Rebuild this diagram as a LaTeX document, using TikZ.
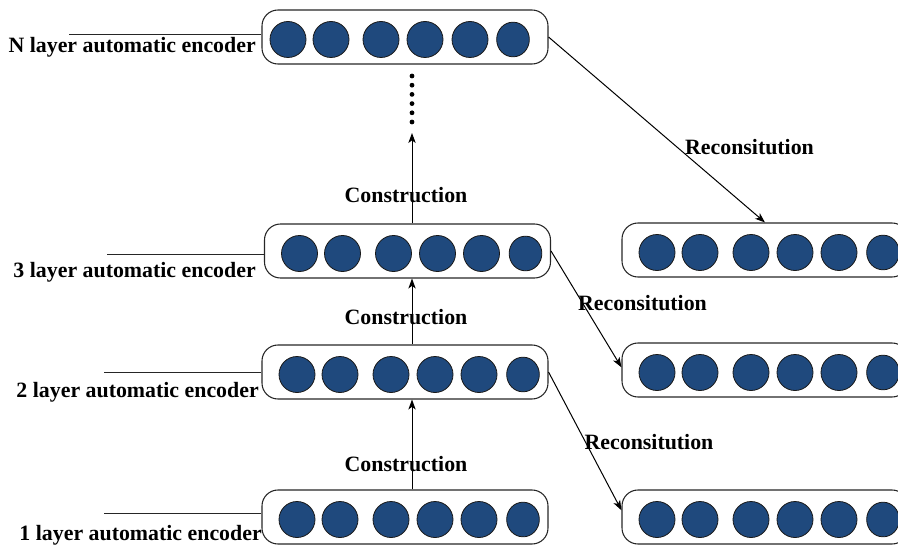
\documentclass[tikz,border=0pt]{standalone}
\usepackage{fontspec}
\setmainfont{Liberation Serif}
\usetikzlibrary{arrows.meta,shapes.geometric}
\definecolor{unitblue}{HTML}{1F497D}

\begin{document}
\begin{tikzpicture}[x=0.75pt,y=-0.75pt,
  layerbox/.style={draw=black!85, line width=0.8pt, rounded corners=12pt,
    minimum width=214.5pt, minimum height=40.5pt, inner sep=0pt},
  unit/.style={ellipse, draw=black!90, line width=0.6pt, fill=unitblue,
    minimum width=27pt, minimum height=27pt, inner sep=0pt},
  lastunit/.style={unit, minimum width=24.5pt, minimum height=26pt},
  lbl/.style={font=\bfseries\fontsize{16.4}{18}\selectfont, inner sep=0pt},
  tagline/.style={line width=0.75pt, black!85},
  link/.style={line width=0.75pt, -{Stealth[length=7.5pt,width=5.5pt,inset=2pt]}}
]
\useasboundingbox (0,0) rectangle (898,545);
\clip (0,0) rectangle (898,545);

% encoder layers (left column)
\node[layerbox] (encN) at (405,37) {};
\node[layerbox] (enc3) at (407.5,251) {};
\node[layerbox] (enc2) at (405,372) {};
\node[layerbox] (enc1) at (405,517) {};
% reconstructed layers (right column)
\node[layerbox] (rec3) at (765,250) {};
\node[layerbox] (rec2) at (765,370) {};
\node[layerbox] (rec1) at (765,517) {};

% units inside the top layer
\foreach \o [count=\i] in {26,69,119,163,208}
  \node[unit] (encN-u\i) at (405-143+\o, 39.5) {};
\node[lastunit] (encN-u6) at (405-143+251, 39.5) {};

% units inside the other layers
\foreach \b/\cx/\cy in {enc3/407.5/251, enc2/405/372, enc1/405/517,
                        rec3/765/250, rec2/765/370, rec1/765/517}{
  \foreach \o [count=\i] in {35,78,129,173,217}
    \node[unit] (\b-u\i) at (\cx-143+\o, \cy+2.5) {};
  \node[lastunit] (\b-u6) at (\cx-143+261, \cy+2.5) {};
}

% layer names with their leader lines
\coordinate (tagN) at (69,35);
\coordinate (tag3) at (107,254);
\coordinate (tag2) at (104,372);
\coordinate (tag1) at (104,513);
\draw[tagline] (tagN) -- (tagN -| encN.west);
\draw[tagline] (tag3) -- (tag3 -| enc3.west);
\draw[tagline] (tag2) -- (tag2 -| enc2.west);
\draw[tagline] (tag1) -- (tag1 -| enc1.west);
\node[lbl, anchor=base east] (labN) at (256,53) {N layer automatic encoder};
\node[lbl, anchor=base east] (lab3) at (256,277) {3 layer automatic encoder};
\node[lbl, anchor=base east] (lab2) at (259,397) {2 layer automatic encoder};
\node[lbl, anchor=base east] (lab1) at (262,540) {1 layer automatic encoder};

% construction path upwards
\coordinate (spine) at (412,0);
\coordinate (dotsend) at (412,133);
\draw[link] (enc1.north -| spine) -- (enc2.south -| spine);
\draw[link] (enc2.north -| spine) -- (enc3.south -| spine);
\draw[link] (enc3.north -| spine) -- (dotsend);
\foreach \k in {0,...,5}
  \fill (412,76+9.2*\k) circle[radius=1.8pt];
\node[lbl] (conC) at (406,195) {Construction};
\node[lbl] (conB) at (406,317) {Construction};
\node[lbl] (conA) at (406,464) {Construction};

% reconstruction links
\draw[link] (encN.east) -- (rec3.north);
\draw[link] (enc3.east) -- ([yshift=2pt]rec2.west);
\draw[link] (enc2.east) -- ([yshift=5pt]rec1.west);
\node[lbl] (recA) at (749.5,147) {Reconsitution};
\node[lbl] (recB) at (642.5,303) {Reconsitution};
\node[lbl] (recC) at (649,442) {Reconsitution};
\end{tikzpicture}
\end{document}
